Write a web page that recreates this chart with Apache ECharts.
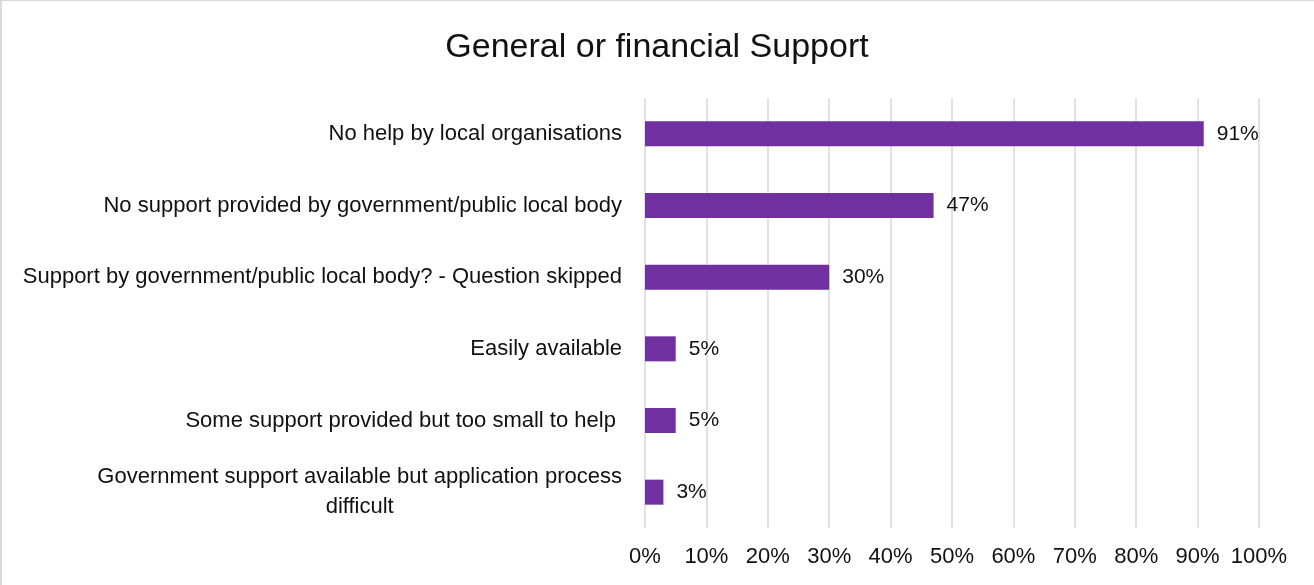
<!DOCTYPE html>
<html>
<head>
<meta charset="utf-8">
<script src="https://cdn.jsdelivr.net/npm/echarts@6/dist/echarts.min.js"></script>
<style>
  html, body { margin: 0; padding: 0; background: #fff; }
  #wrap { position: relative; width: 1314px; height: 585px; overflow: hidden; }
  #chart { position: absolute; left: 0; top: 0; width: 1314px; height: 585px; }
  #bt { position: absolute; left: 0; top: 0; width: 1314px; height: 1px; background: #d9d9d9; }
  #bl { position: absolute; left: 0; top: 0; width: 2px; height: 585px; background: #d9d9d9; }
</style>
</head>
<body>
<div id="wrap">
  <div id="chart"></div>
  <div id="bt"></div>
  <div id="bl"></div>
</div>
<script>
const chartTitle = 'General or financial Support';
const categories = [
  'No help by local organisations',
  'No support provided by government/public local body',
  'Support by government/public local body? - Question skipped',
  'Easily available',
  'Some support provided but too small to help ',
  'Government support available but application process\ndifficult'
];
const values = [91, 47, 30, 5, 5, 3];
const xTicks = [0, 10, 20, 30, 40, 50, 60, 70, 80, 90, 100];

const FONT = '"Liberation Sans", Arial, sans-serif';
const TXT = '#111111';
const CAT_SIZE = 22;

// measure widest line of multi-line labels to center lines within the block
const cv = document.createElement('canvas').getContext('2d');
cv.font = CAT_SIZE + 'px "Liberation Sans"';
let maxW = 0;
categories.forEach(c => {
  if (c.indexOf('\n') >= 0) c.split('\n').forEach(l => { maxW = Math.max(maxW, cv.measureText(l).width); });
});

const chart = echarts.init(document.getElementById('chart'), null, { renderer: 'canvas' });
chart.setOption({
  animation: false,
  backgroundColor: '#ffffff',
  title: {
    text: chartTitle,
    left: 'center',
    top: 26,
    textStyle: { fontFamily: FONT, fontSize: 34, fontWeight: 'normal', color: TXT }
  },
  grid: { left: 645, right: 55, top: 98, bottom: 57 },
  xAxis: {
    type: 'value',
    min: xTicks[0],
    max: xTicks[xTicks.length - 1],
    interval: xTicks[1] - xTicks[0],
    axisLine: { show: false },
    axisTick: { show: false },
    splitLine: { show: true, lineStyle: { color: '#d9d9d9', width: 1.5 } },
    axisLabel: {
      formatter: '{value}%',
      fontFamily: FONT, fontSize: 22, color: TXT, margin: 18
    }
  },
  yAxis: {
    type: 'category',
    inverse: true,
    data: categories,
    axisLine: { show: false },
    axisTick: { show: false },
    splitLine: { show: false },
    axisLabel: {
      fontFamily: FONT, fontSize: CAT_SIZE, color: TXT, margin: 23, lineHeight: 30,
      formatter: function (v) {
        if (v.indexOf('\n') < 0) return v;
        return v.split('\n').map(l => '{c|' + l + '}').join('\n');
      },
      rich: {
        c: { width: maxW, align: 'center', fontFamily: FONT, fontSize: CAT_SIZE, color: TXT, lineHeight: 30 }
      }
    }
  },
  series: [{
    type: 'bar',
    data: values,
    barWidth: 25,
    itemStyle: { color: '#7030A0' },
    label: {
      show: true,
      position: 'right',
      distance: 13,
      formatter: '{c}%',
      fontFamily: FONT, fontSize: 21, color: TXT
    }
  }]
});
</script>
</body>
</html>
